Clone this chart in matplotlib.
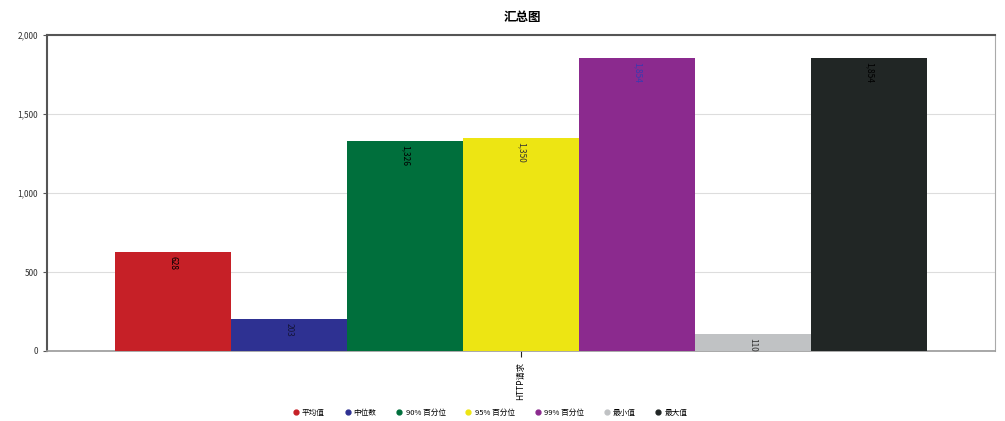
import matplotlib.pyplot as plt
from matplotlib.ticker import FuncFormatter
from matplotlib.lines import Line2D

plt.rcParams['font.family'] = ['Noto Sans CJK SC', 'DejaVu Sans']

# data
category = "HTTP请求"
series = ["平均值", "中位数", "90% 百分位", "95% 百分位", "99% 百分位", "最小值", "最大值"]
values = [628, 203, 1326, 1350, 1854, 110, 1854]
labels = ["628", "203", "1,326", "1,350", "1,854", "110", "1,854"]
colors = ["#C62027", "#2E3192", "#006F3C", "#EDE513", "#8B2A8E", "#C0C2C4", "#212625"]
label_colors = ["black", "#15153a", "black", "#333333", "#3A3AB0", "#333333", "black"]

fig = plt.figure(figsize=(10.05, 4.21), dpi=100)
ax = fig.add_axes([47/1005, 70/421, 948/1005, 316/421])

n = len(series)
for i in range(n):
    x = i - (n - 1) / 2
    ax.bar(x, values[i], width=1.0, color=colors[i], zorder=3)
    ax.text(x, values[i] - 25, labels[i], rotation=270, ha='center', va='top',
            fontsize=6, color=label_colors[i], zorder=4)

ax.set_xlim(-948/116/2, 948/116/2)
ax.set_ylim(0, 2000)
ax.set_yticks([0, 500, 1000, 1500, 2000])
ax.yaxis.set_major_formatter(FuncFormatter(lambda v, p: f"{int(v):,}"))
ax.tick_params(axis='y', labelsize=6, length=3, color='#555555', labelcolor='#333333')
ax.set_xticks([0])
ax.set_xticklabels([category], rotation=90, fontsize=6)
ax.tick_params(axis='x', length=4, color='#222222')
ax.grid(axis='y', color='#dddddd', linewidth=0.8, zorder=0)

for s in ['top', 'left']:
    ax.spines[s].set_color('#555555')
    ax.spines[s].set_linewidth(1.5)
ax.spines['right'].set_color('#aaaaaa')
ax.spines['bottom'].set_color('#999999')
ax.spines['bottom'].set_linewidth(1.2)

fig.text(522/1005, 1 - 17/421, "汇总图", ha='center', va='center', fontsize=9, fontweight='bold')

handles = [Line2D([], [], linestyle='none', marker='o', markersize=3.5,
                  markerfacecolor=c, markeredgecolor=c) for c in colors]
fig.legend(handles, series, loc='center', bbox_to_anchor=(490/1005, 1 - 413/421), ncol=7,
           frameon=False, fontsize=5.5, handlelength=0.8, columnspacing=2.6, handletextpad=0.4)

plt.savefig("out.png", dpi=100)
